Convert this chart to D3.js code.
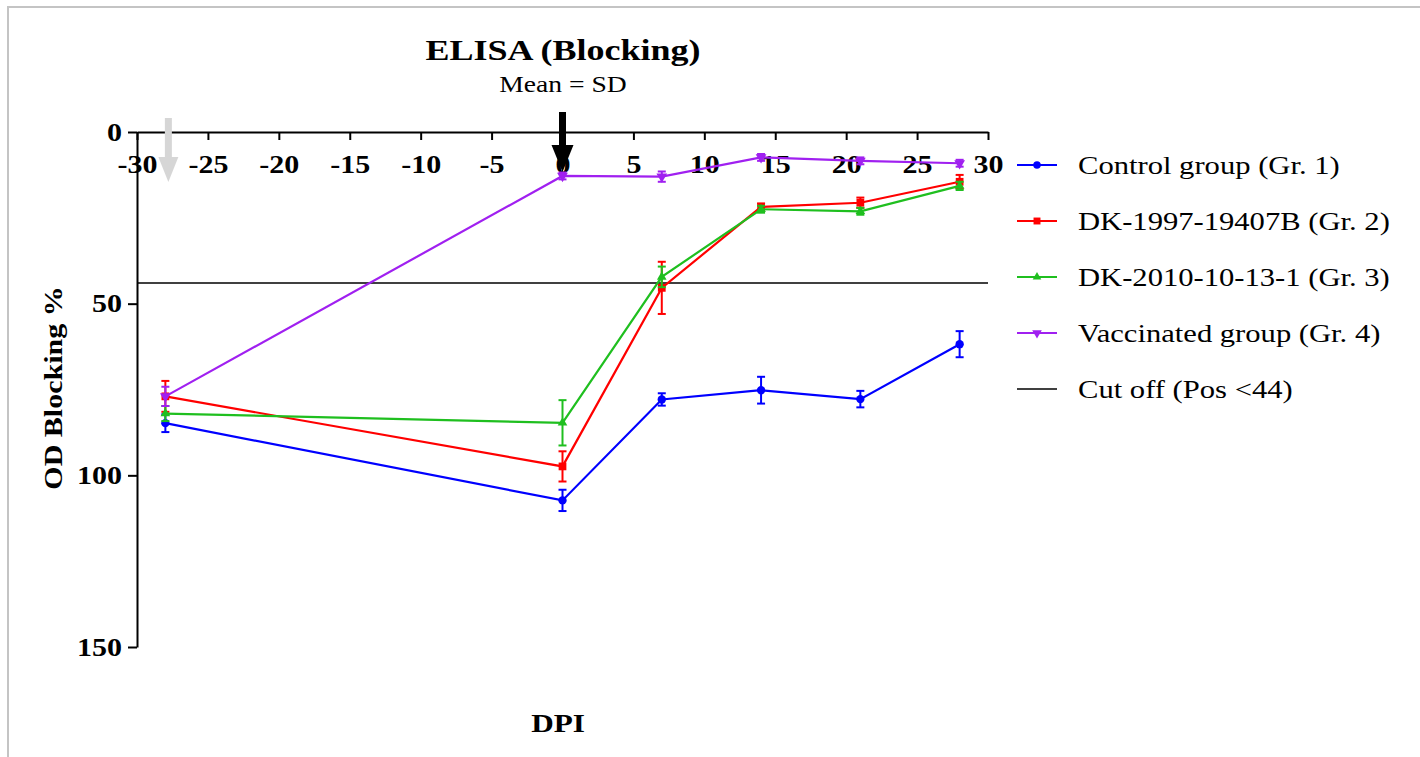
<!doctype html>
<html>
<head>
<meta charset="utf-8">
<title>ELISA (Blocking)</title>
<script src="https://cdn.jsdelivr.net/npm/d3@7"></script>
<style>
  body { margin: 0; background: #ffffff; }
  text { font-family: "Liberation Serif", "Times New Roman", serif; fill: #000; }
</style>
</head>
<body>
<script>
// data (days post infection, mean OD blocking %, SD)
var days = [-28, 0, 7, 14, 21, 28];
var control = [84.8, 107.3, 77.9, 75.2, 77.8, 61.8];
var controlSD = [2.6, 3.1, 1.8, 3.9, 2.4, 3.8];
var dk1997 = [77.0, 97.4, 45.4, 21.8, 20.6, 14.5];
var dk1997SD = [4.5, 4.4, 7.6, 1.0, 1.5, 2.0];
var dk2010 = [82.0, 84.7, 42.2, 22.5, 23.1, 15.7];
var dk2010SD = [2.2, 6.6, 3.0, 1.0, 1.0, 1.2];
var vaccinated = [77.0, 12.8, 13.0, 7.4, 8.4, 9.1];
var vaccinatedSD = [2.8, 1.0, 1.5, 1.0, 1.0, 1.0];
var cutOff = 44;
var xTicks = [-30, -25, -20, -15, -10, -5, 0, 5, 10, 15, 20, 25, 30];
var yTicks = [0, 50, 100, 150];
var arrowDays = [-28, 0];

var series = [
  {name: "Control group (Gr. 1)", vals: control, sd: controlSD, color: "#0000ff", sym: d3.symbolCircle, size: 55, rot: 0},
  {name: "DK-1997-19407B (Gr. 2)", vals: dk1997, sd: dk1997SD, color: "#ff0000", sym: d3.symbolSquare, size: 60, rot: 0},
  {name: "DK-2010-10-13-1 (Gr. 3)", vals: dk2010, sd: dk2010SD, color: "#1fbf1f", sym: d3.symbolTriangle, size: 40, rot: 0},
  {name: "Vaccinated group (Gr. 4)", vals: vaccinated, sd: vaccinatedSD, color: "#a020f0", sym: d3.symbolTriangle, size: 50, rot: 180}
];

var w = 1420, h = 757;
var sx = 1.2; // text in the figure is stretched sideways
var serif = "'Liberation Serif', 'Times New Roman', serif";

var svg = d3.select("body").append("svg")
  .attr("width", w).attr("height", h);

// frame (top and left edges)
svg.append("path")
  .attr("d", "M8," + h + "V7H" + w)
  .attr("fill", "none").attr("stroke", "#c4c4c4").attr("stroke-width", 2);

var x = d3.scaleLinear().domain([-30, 30]).range([137, 988]);
var y = d3.scaleLinear().domain([0, 150]).range([132, 647]);

function label(txt, px, py, size, weight, anchor, rot) {
  svg.append("text")
    .attr("transform", "translate(" + px + "," + py + ")" + (rot ? " rotate(" + rot + ")" : "") + " scale(" + sx + ",1)")
    .attr("text-anchor", anchor || "middle")
    .attr("font-size", size)
    .attr("font-weight", weight)
    .text(txt);
}

// titles
label("ELISA (Blocking)", 563, 60, 30, "bold");
label("Mean = SD", 563, 92, 23, "normal");
label("OD Blocking %", 62, 388, 25, "bold", "middle", -90);
label("DPI", 558, 732, 26, "bold");

// x axis along the top (y = 0)
var xAxis = svg.append("g")
  .attr("transform", "translate(0," + y(0) + ")")
  .call(d3.axisBottom(x).tickValues(xTicks).tickSize(8).tickPadding(15).tickSizeOuter(0)
    .tickFormat(function(d) { return String(d); }));
xAxis.select(".domain").attr("stroke", "#000").attr("stroke-width", 2);
xAxis.selectAll(".tick line").attr("stroke", "#000").attr("stroke-width", 2);
xAxis.selectAll("text")
  .attr("font-size", 25).attr("font-weight", "bold")
  .attr("font-family", serif)
  .attr("transform", "scale(" + sx + ",1)");

// y axis
var yAxis = svg.append("g")
  .attr("transform", "translate(" + x(-30) + ",0)")
  .call(d3.axisLeft(y).tickValues(yTicks).tickSize(9).tickPadding(6).tickSizeOuter(0));
yAxis.select(".domain").attr("stroke", "#000").attr("stroke-width", 2);
yAxis.selectAll(".tick line").attr("stroke", "#000").attr("stroke-width", 2);
yAxis.selectAll("text")
  .attr("font-size", 25).attr("font-weight", "bold")
  .attr("font-family", serif)
  .attr("x", -15 / sx)
  .attr("transform", "scale(" + sx + ",1)");

// cut off line
svg.append("line")
  .attr("x1", x(-30)).attr("x2", x(30))
  .attr("y1", y(cutOff)).attr("y2", y(cutOff))
  .attr("stroke", "#000").attr("stroke-width", 1.6);

var line = d3.line()
  .x(function(d) { return x(d.day); })
  .y(function(d) { return y(d.v); });

series.forEach(function(s) {
  var pts = days.map(function(d, i) { return {day: d, v: s.vals[i], sd: s.sd[i]}; });
  var g = svg.append("g");
  g.append("path").datum(pts)
    .attr("d", line)
    .attr("fill", "none").attr("stroke", s.color).attr("stroke-width", 2.2);

  // error bars
  var eb = g.selectAll(".eb").data(pts).enter().append("g");
  eb.append("line")
    .attr("x1", function(d) { return x(d.day); }).attr("x2", function(d) { return x(d.day); })
    .attr("y1", function(d) { return y(d.v - d.sd); }).attr("y2", function(d) { return y(d.v + d.sd); })
    .attr("stroke", s.color).attr("stroke-width", 2);
  [-1, 1].forEach(function(k) {
    eb.append("line")
      .attr("x1", function(d) { return x(d.day) - 4; }).attr("x2", function(d) { return x(d.day) + 4; })
      .attr("y1", function(d) { return y(d.v + k * d.sd); }).attr("y2", function(d) { return y(d.v + k * d.sd); })
      .attr("stroke", s.color).attr("stroke-width", 2);
  });

  g.selectAll(".m").data(pts).enter().append("path")
    .attr("d", d3.symbol().type(s.sym).size(s.size))
    .attr("transform", function(d) { return "translate(" + x(d.day) + "," + y(d.v) + ") rotate(" + s.rot + ")"; })
    .attr("fill", s.color);
});

// arrows (gray = day -28, black = day 0)
var arrowColors = ["#d6d6d6", "#000000"];
arrowDays.forEach(function(d, i) {
  var cx = x(d) + (i === 0 ? 3 : 0);
  var top = i === 0 ? 118 : 112;
  var headTop = i === 0 ? 157 : 145;
  var tip = i === 0 ? 182 : 172;
  var hw = i === 0 ? 10 : 11;
  svg.append("rect")
    .attr("x", cx - 3.5).attr("y", top).attr("width", 7).attr("height", headTop - top + 2)
    .attr("fill", arrowColors[i]);
  svg.append("path")
    .attr("d", "M" + (cx - hw) + "," + headTop + "L" + (cx + hw) + "," + headTop + "L" + cx + "," + tip + "Z")
    .attr("fill", arrowColors[i]);
});

// legend
var legend = svg.append("g");
var legendItems = series.map(function(s) { return s; });
legendItems.push({name: "Cut off (Pos <44)", color: "#000", sym: null});
legendItems.forEach(function(s, i) {
  var ly = 165 + i * 56;
  legend.append("line")
    .attr("x1", 1017).attr("x2", 1057).attr("y1", ly).attr("y2", ly)
    .attr("stroke", s.color).attr("stroke-width", s.sym ? 2 : 1.6);
  if (s.sym) {
    legend.append("path")
      .attr("d", d3.symbol().type(s.sym).size(s.size * 0.8))
      .attr("transform", "translate(1037," + ly + ") rotate(" + s.rot + ")")
      .attr("fill", s.color);
  }
  legend.append("text")
    .attr("transform", "translate(1078," + (ly + 9) + ") scale(" + sx + ",1)")
    .attr("font-size", 25.5)
    .attr("fill", "#222")
    .text(s.name);
});
</script>
</body>
</html>
